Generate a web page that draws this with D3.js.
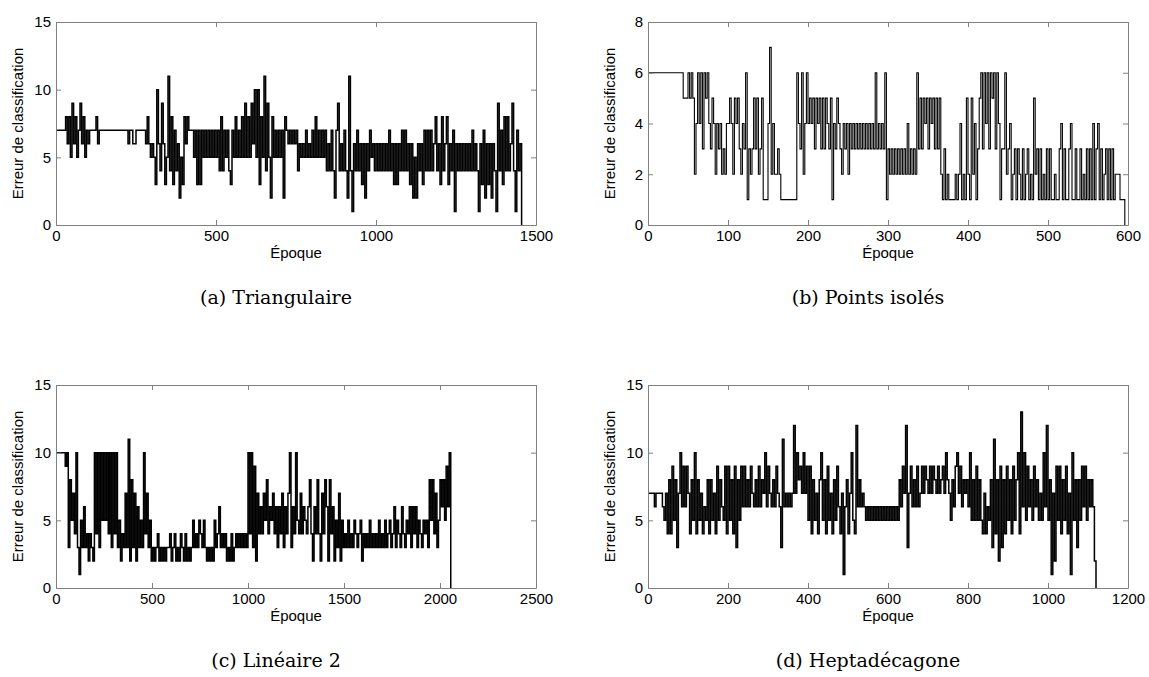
<!DOCTYPE html>
<html>
<head>
<meta charset="utf-8">
<script src="https://cdn.jsdelivr.net/npm/d3@7"></script>
<style>
  body { margin: 0; background: #fff; }
  svg { display: block; }
</style>
</head>
<body>
<svg id="chart" width="1149" height="677"></svg>
<script>
// Classification error per epoch, one value every STEP epochs for each run.
const triangulaireStep = 5;
const triangulaire = [
  7,7,7,7,7,7,8,6,8,5, 9,6,8,5,7,9,6,8,5,7, 6,7,7,7,7,8,6,7,7,7, 7,7,7,7,7,7,7,7,7,7,
  7,7,7,7,7,6,7,7,6,6, 7,7,7,7,7,7,6,8,6,5, 6,5,3,10,6,4,9,6,3,5, 11,4,8,3,7,4,6,2,5,3,
  8,6,8,7,7,7,5,7,3,7, 3,7,5,7,5,7,5,7,5,7, 5,7,4,8,4,7,5,7,4,3, 7,5,8,5,7,5,8,5,9,5,
  8,5,9,6,10,5,10,3,8,5, 11,4,9,5,2,8,5,7,5,7, 5,7,2,8,7,6,7,6,7,6, 7,4,6,5,6,5,7,5,6,5,
  7,5,8,5,7,5,7,5,7,4, 6,4,7,4,2,7,9,4,6,4, 7,4,2,11,4,1,6,4,7,4, 6,3,6,2,6,4,7,5,6,4,
  6,4,6,4,6,4,6,4,7,4, 6,3,6,3,6,4,7,4,7,4, 6,3,6,2,5,2,6,4,6,3, 7,4,7,4,7,4,6,8,4,6,
  3,8,4,6,8,3,6,4,7,1, 6,4,6,4,6,4,6,4,6,4, 7,4,6,4,1,6,3,7,2,6, 3,6,2,6,4,1,9,4,7,3,
  8,4,8,4,6,9,4,1,7,4, 6,0
];

const pointsIsolesStep = 2;
const pointsIsoles = [
  6,6,6,6,6,6,6,6,6,6, 6,6,6,6,6,6,6,6,6,6, 6,6,5,5,5,6,5,6,5,2, 4,6,4,6,3,6,5,6,4,3,
  5,4,2,4,3,4,2,3,2,4, 4,5,4,2,5,4,5,3,2,4, 3,6,1,3,2,3,5,3,5,2, 3,5,1,1,1,4,7,2,4,2,
  2,3,2,1,1,1,1,1,1,1, 1,1,1,6,4,3,6,2,4,6, 4,5,4,5,3,5,4,5,3,5, 3,5,4,3,5,1,4,3,5,4,
  3,2,4,3,4,2,4,3,4,3, 4,3,4,3,4,3,4,3,4,3, 4,3,6,3,4,3,4,3,6,1, 3,2,3,2,3,2,3,2,3,2,
  3,2,4,2,3,2,3,2,6,3, 5,3,5,4,5,3,5,4,5,3, 5,3,5,2,1,3,1,2,1,1, 1,1,2,1,2,4,1,2,1,5,
  2,1,5,2,4,1,3,5,6,3, 6,4,6,3,6,5,6,3,6,4, 1,3,3,6,2,3,4,1,2,3, 1,3,2,1,3,1,2,3,1,2,
  1,5,2,3,1,3,1,2,1,3, 1,3,1,1,2,1,1,3,4,1, 3,1,1,3,4,1,1,3,1,1, 3,1,2,1,3,1,3,1,4,1,
  3,4,1,3,1,2,3,1,3,1, 3,1,2,2,2,1,1,1,0
];

const lineaire2Step = 8;
const lineaire2 = [
  10,10,10,10,10,10,9,10,3,8, 5,7,4,10,3,1,5,3,6,3, 4,2,4,3,2,10,4,10,3,10, 5,10,5,10,4,10,3,10,4,10,
  3,5,2,4,3,7,3,11,2,8, 3,7,2,6,3,5,3,10,4,7, 3,5,2,3,2,3,4,2,3,2, 3,2,3,3,4,2,3,4,2,3,
  2,4,3,2,4,2,3,2,3,5, 3,4,3,5,4,3,5,3,2,3, 2,3,2,5,3,4,6,3,4,3, 4,2,3,2,4,2,3,4,3,4,
  3,4,3,4,3,10,4,10,3,9, 2,7,4,6,4,7,5,8,4,6, 5,7,4,6,3,6,4,7,3,6, 4,7,10,3,6,4,10,5,4,7,
  4,6,5,4,6,8,4,2,6,4, 8,4,2,7,4,8,6,2,8,4, 6,2,5,3,7,2,5,3,4,3, 5,3,4,3,5,4,3,4,5,2,
  4,3,4,3,5,3,4,3,4,3, 5,3,4,3,5,3,4,5,3,4, 6,3,5,4,3,6,4,3,5,4, 6,3,6,4,6,3,5,4,3,5,
  4,5,3,8,5,8,4,7,3,5, 8,6,8,5,9,6,10,0
];

const heptadecagoneStep = 4;
const heptadecagone = [
  7,7,7,7,6,7,7,7,7,6, 5,7,4,8,4,9,5,8,3,7, 10,6,9,6,9,7,4,8,5,10, 4,8,5,7,4,6,5,8,4,8,
  5,7,4,9,5,8,6,5,9,4, 9,5,8,4,9,3,8,5,9,6, 9,6,8,6,9,7,6,8,6,9, 6,8,7,10,6,9,7,6,8,6,
  9,7,6,3,11,6,7,6,7,6, 7,12,7,10,8,9,7,10,7,9, 5,9,4,8,5,7,4,8,10,5, 8,4,9,5,7,4,8,5,9,6,
  4,7,1,6,8,4,7,10,5,4, 12,6,8,6,7,6,5,6,5,6, 5,6,5,6,5,6,5,6,5,6, 5,6,5,6,5,6,5,8,6,9,
  7,12,3,7,9,6,8,6,9,6, 7,9,7,9,8,7,9,7,9,8, 7,9,7,8,9,7,10,8,7,5, 8,6,9,10,7,9,6,8,7,8,
  6,10,5,8,5,9,5,8,5,4, 7,4,6,5,8,3,11,4,8,2, 9,3,8,4,9,5,8,4,9,5, 8,10,4,13,6,10,5,9,6,8,
  5,9,6,8,5,7,5,10,6,12, 5,8,1,7,2,9,5,9,4,8, 5,9,4,7,1,10,5,8,3,8, 5,9,6,9,5,8,6,8,6,2,
  0
];

// Axis ticks for each panel.
const ticksTriangulaireX = [0, 500, 1000, 1500];
const ticksPointsIsolesX = [0, 100, 200, 300, 400, 500, 600];
const ticksLineaire2X = [0, 500, 1000, 1500, 2000, 2500];
const ticksHeptadecagoneX = [0, 200, 400, 600, 800, 1000, 1200];
const ticksErreur15 = [0, 5, 10, 15];
const ticksErreur8 = [0, 2, 4, 6, 8];

const panels = [
  { title: "(a) Triangulaire", values: triangulaire, step: triangulaireStep,
    xTicks: ticksTriangulaireX, yTicks: ticksErreur15, col: 0, row: 0, lw: 1.5 },
  { title: "(b) Points isolés", values: pointsIsoles, step: pointsIsolesStep,
    xTicks: ticksPointsIsolesX, yTicks: ticksErreur8, col: 1, row: 0, lw: 1.1 },
  { title: "(c) Linéaire 2", values: lineaire2, step: lineaire2Step,
    xTicks: ticksLineaire2X, yTicks: ticksErreur15, col: 0, row: 1, lw: 1.5 },
  { title: "(d) Heptadécagone", values: heptadecagone, step: heptadecagoneStep,
    xTicks: ticksHeptadecagoneX, yTicks: ticksErreur15, col: 1, row: 1, lw: 1.5 }
];

const colLeft = [56, 648];
const plotW = 480;
const rowTop = [22, 385];
const plotH = 203;
const AXIS_GRAY = "#808080";
const SANS = "'Liberation Sans', Arial, Helvetica, sans-serif";
const SERIF = "'DejaVu Serif', 'Liberation Serif', serif";
const fmt = d3.format("d");

const svg = d3.select("#chart");

panels.forEach(p => {
  const left = colLeft[p.col], top = rowTop[p.row];
  const right = left + plotW, bottom = top + plotH;

  const x = d3.scaleLinear()
    .domain([p.xTicks[0], p.xTicks[p.xTicks.length - 1]])
    .range([left, right]);
  const y = d3.scaleLinear()
    .domain([p.yTicks[0], p.yTicks[p.yTicks.length - 1]])
    .range([bottom, top]);

  const g = svg.append("g");

  // Error curve as a step line.
  const line = d3.line()
    .x((d, i) => x(i * p.step))
    .y(d => y(d))
    .curve(d3.curveStepAfter);

  g.append("path")
    .datum(p.values)
    .attr("fill", "none")
    .attr("stroke", "#000")
    .attr("stroke-width", p.lw)
    .attr("d", line);

  // Box axes with inward ticks on every side.
  const styleAxis = sel => {
    sel.attr("color", AXIS_GRAY);
    sel.selectAll("text")
      .attr("fill", "#000")
      .style("font-family", SANS)
      .style("font-size", "15px");
  };

  g.append("g").attr("transform", `translate(0,${bottom})`)
    .call(d3.axisBottom(x).tickValues(p.xTicks).tickFormat(fmt).tickSize(-5).tickSizeOuter(0).tickPadding(5))
    .call(styleAxis);
  g.append("g").attr("transform", `translate(0,${top})`)
    .call(d3.axisTop(x).tickValues(p.xTicks).tickSize(-5).tickSizeOuter(0).tickFormat(""))
    .call(styleAxis);
  g.append("g").attr("transform", `translate(${left},0)`)
    .call(d3.axisLeft(y).tickValues(p.yTicks).tickFormat(fmt).tickSize(-5).tickSizeOuter(0).tickPadding(5))
    .call(styleAxis);
  g.append("g").attr("transform", `translate(${right},0)`)
    .call(d3.axisRight(y).tickValues(p.yTicks).tickSize(-5).tickSizeOuter(0).tickFormat(""))
    .call(styleAxis);

  // Axis titles.
  g.append("text")
    .attr("x", (left + right) / 2)
    .attr("y", bottom + 33)
    .attr("text-anchor", "middle")
    .style("font-family", SANS)
    .style("font-size", "15px")
    .text("Époque");

  g.append("text")
    .attr("transform", `translate(${left - 38},${(top + bottom) / 2}) rotate(-90)`)
    .attr("text-anchor", "middle")
    .attr("dy", "0.35em")
    .style("font-family", SANS)
    .style("font-size", "15px")
    .text("Erreur de classification");

  // Sub-figure caption.
  g.append("text")
    .attr("x", left + 220)
    .attr("y", bottom + 79)
    .attr("text-anchor", "middle")
    .style("font-family", SERIF)
    .style("font-size", "19px")
    .text(p.title);
});
</script>
</body>
</html>
